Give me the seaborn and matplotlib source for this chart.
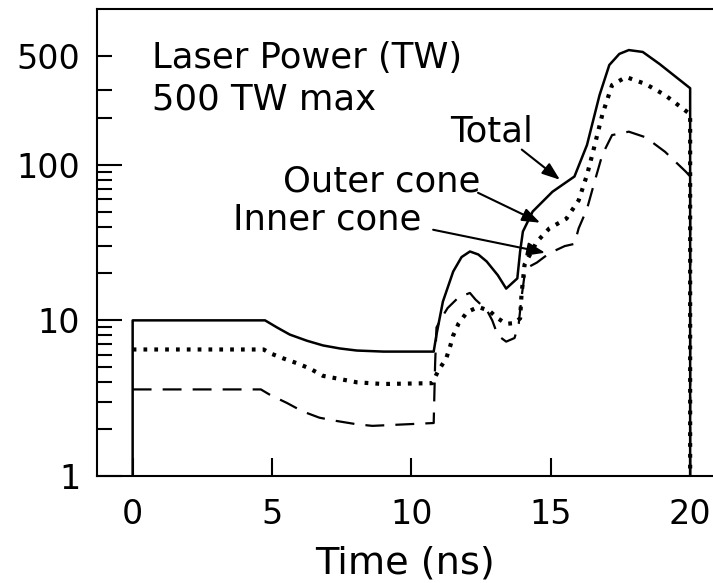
import matplotlib
matplotlib.use("Agg")
import matplotlib.pyplot as plt
import seaborn as sns
from matplotlib.ticker import FixedLocator, FuncFormatter

# Laser pulse shape (time in ns, power in TW)
total_time = [0, 0, 4.75, 5.18, 5.64, 6.25, 6.83, 7.43, 8.04, 9.0, 10.8, 10.9,
              11.13, 11.5, 11.8, 12.1, 12.4, 12.7, 13.1, 13.4, 13.8, 13.9, 14.0,
              14.35, 15.06, 15.85, 16.3, 16.75, 17.1, 17.46, 17.8, 18.3, 18.9,
              20.0, 20.0]
total_tw = [1, 10, 10, 9.0, 8.1, 7.4, 6.9, 6.6, 6.4, 6.3, 6.3, 8.1,
            13.2, 20.6, 25.5, 27.7, 26.5, 23.9, 19.5, 16.0, 18.6, 27.7, 37.2,
            50, 67, 84, 134, 280, 437, 515, 545, 530, 444,
            310, 1]

outer_time = [0, 4.7, 4.93, 5.4, 5.9, 6.36, 6.83, 7.43, 8.04, 8.98, 10.75, 10.95,
              11.25, 11.4, 11.5, 11.7, 12.0, 12.4, 12.8, 13.1, 13.4, 13.7, 13.9,
              13.95, 14.06, 14.5, 14.95, 15.56, 16.0, 16.3, 16.5, 16.85, 17.2,
              17.7, 18.4, 19.1, 20.0, 20.0]
outer_tw = [6.5, 6.5, 6.15, 5.7, 5.3, 4.9, 4.4, 4.2, 4.0, 3.9, 3.95, 4.7,
            5.7, 6.9, 8.0, 9.6, 11.3, 12.2, 11.5, 10.3, 9.5, 9.6, 10.3,
            14.6, 22.8, 32, 39, 45, 59, 86, 118, 210, 325,
            366, 330, 280, 211, 1]

inner_time = [0, 4.6, 4.93, 5.53, 6.1, 6.7, 7.3, 8.04, 8.6, 10.8, 10.85, 10.9,
              11.1, 11.3, 11.7, 12.1, 12.3, 12.7, 12.9, 13.1, 13.4, 13.7, 13.85,
              13.95, 14.05, 14.2, 14.5, 14.95, 15.5, 15.85, 16.0, 16.3, 16.6,
              16.85, 17.2, 17.8, 18.4, 19.1, 19.85, 20.0, 20.0]
inner_tw = [3.6, 3.6, 3.32, 2.95, 2.6, 2.37, 2.26, 2.15, 2.1, 2.19, 5.2, 9.0,
            10.5, 12.0, 14.1, 15.0, 13.6, 11.7, 10.0, 8.0, 7.3, 7.7, 9.5,
            14.0, 19.0, 22.0, 23.5, 27, 30, 31, 39, 52, 81,
            116, 155, 163, 150, 121, 90, 84, 1]

x_ticks = [0, 5, 10, 15, 20]
y_ticks = [1, 10, 100]
y_minor = [2, 3, 4, 5, 6, 7, 8, 9, 20, 30, 40, 50, 60, 70, 80, 90, 200, 300, 500]

sns.set_theme(style="ticks", rc={
    "axes.edgecolor": "black", "axes.linewidth": 1.5,
    "text.color": "black", "axes.labelcolor": "black",
    "xtick.color": "black", "ytick.color": "black",
})
plt.rcParams["font.family"] = ["DejaVu Sans"]

fig = plt.figure(figsize=(7.13, 5.83), dpi=100)
ax = fig.add_axes([0.136, 0.1835, 0.864, 0.801])

sns.lineplot(x=total_time, y=total_tw, ax=ax, estimator=None, sort=False,
             color="black", linewidth=1.8)
sns.lineplot(x=outer_time, y=outer_tw, ax=ax, estimator=None, sort=False,
             color="black", linewidth=3.0, linestyle=(0, (0.9, 1.7)))
sns.lineplot(x=inner_time, y=inner_tw, ax=ax, estimator=None, sort=False,
             color="black", linewidth=1.6, linestyle=(0, (8.5, 5)))

ax.set_yscale("log")
ax.set_xlim(-1.28, 20.82)
ax.set_ylim(1, 1000)
ax.spines["right"].set_visible(False)

ax.set_xticks(x_ticks)
ax.set_yticks(y_ticks)
ax.set_yticklabels([str(v) for v in y_ticks])
ax.yaxis.set_minor_locator(FixedLocator(y_minor))
ax.yaxis.set_minor_formatter(FuncFormatter(lambda v, p: "500" if abs(v - 500) < 1 else ""))
ax.xaxis.set_minor_locator(FixedLocator([]))

ax.tick_params(axis="x", which="major", direction="in", length=13, width=1.5,
               labelsize=24, pad=16, top=False)
ax.tick_params(axis="y", which="major", direction="in", length=18, width=1.5,
               labelsize=24, pad=12, right=False)
ax.tick_params(axis="y", which="minor", direction="in", length=11, width=1.5,
               labelsize=24, pad=12, right=False)

ax.set_xlabel("Time (ns)", fontsize=27.5, labelpad=10)
ax.set_ylabel("")

# annotations
ax.text(0.69, 421, "Laser Power (TW)", fontsize=25.5, ha="left", va="baseline")
ax.text(0.69, 226, "500 TW max", fontsize=25.5, ha="left", va="baseline")
ax.text(11.38, 141, "Total", fontsize=25.5, ha="left", va="baseline")
ax.text(5.39, 67, "Outer cone", fontsize=25.5, ha="left", va="baseline")
ax.text(3.6, 38.2, "Inner cone", fontsize=25.5, ha="left", va="baseline")

arrow_kw = dict(arrowstyle="-|>,head_length=0.6,head_width=0.22", color="black",
                lw=1.5, shrinkA=0, shrinkB=0, mutation_scale=18)
ax.annotate("", xy=(15.33, 80), xytext=(13.96, 125), arrowprops=arrow_kw)
ax.annotate("", xy=(14.62, 42.4), xytext=(12.39, 66), arrowprops=arrow_kw)
ax.annotate("", xy=(14.8, 27.2), xytext=(10.78, 38.2), arrowprops=arrow_kw)

fig.savefig("out.png", dpi=100)
